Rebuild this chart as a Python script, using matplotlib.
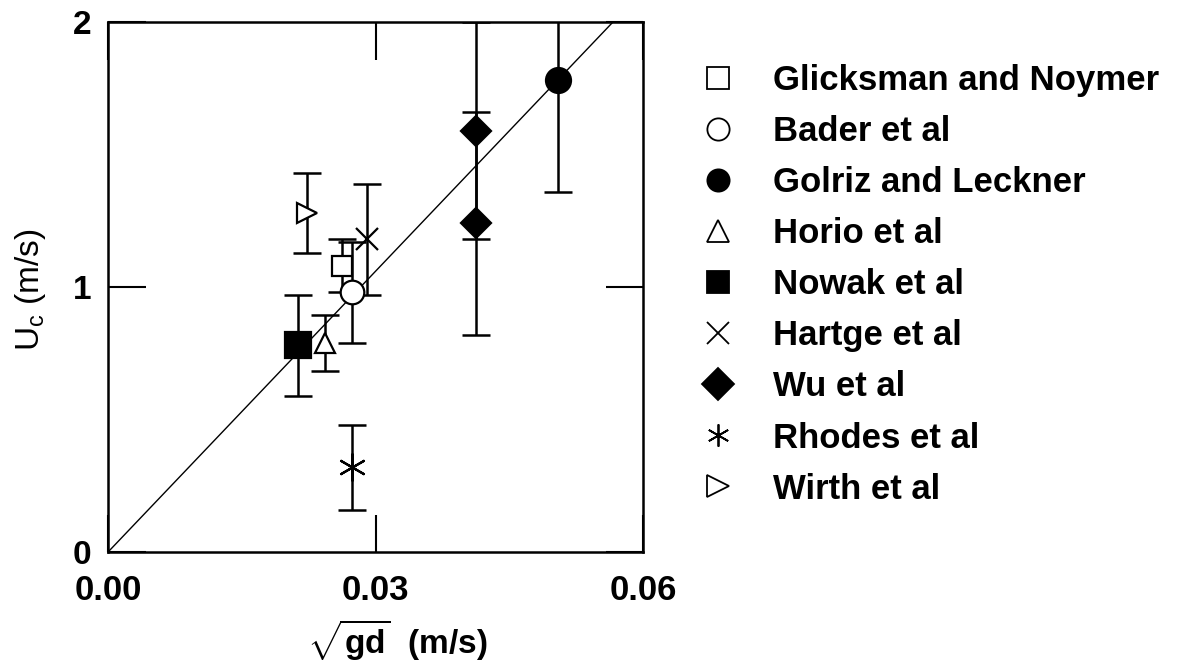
import matplotlib.pyplot as plt
from matplotlib.lines import Line2D

plt.rcParams['font.family'] = ['Liberation Sans', 'DejaVu Sans']
plt.rcParams['mathtext.fontset'] = 'custom'
plt.rcParams['mathtext.rm'] = 'Liberation Sans'
plt.rcParams['mathtext.it'] = 'Liberation Sans:italic'
plt.rcParams['mathtext.bf'] = 'Liberation Sans:bold'

# data
labels = ["Glicksman and Noymer", "Bader et al", "Golriz and Leckner", "Horio et al",
          "Nowak et al", "Hartge et al", "Wu et al", "Rhodes et al", "Wirth et al"]
x_vals = [[0.0262], [0.0274], [0.0505], [0.0243], [0.0213], [0.0290],
          [0.0413, 0.0413], [0.0274], [0.0223]]
y_vals = [[1.08], [0.98], [1.78], [0.79], [0.78], [1.18], [1.59, 1.24], [0.32], [1.28]]
y_err = [[0.10], [0.19], [0.42], [0.105], [0.19], [0.21], [0.41, 0.42], [0.16], [0.15]]
markers = ["s", "o", "o", "^", "s", "x", "D", "*", ">"]
filled = [False, False, True, False, True, False, True, False, False]
msizes = [15, 17, 18, 15, 19, 16, 15, 20, 15]

fit_x = [0.0, 0.0566]
fit_y = [0.0, 2.0]


def get_marker(m):
    if m == "*":
        return (6, 2, 0)
    return m


fig = plt.figure(figsize=(12, 6.7), dpi=100)
ax = fig.add_axes([0.09, 0.176, 0.446, 0.791])

ax.plot(fit_x, fit_y, color="black", lw=1.0, zorder=2)

for i in range(len(labels)):
    fc = "black" if filled[i] else "white"
    ax.errorbar(x_vals[i], y_vals[i], yerr=y_err[i], fmt="none", ecolor="black",
                elinewidth=1.8, capsize=10, capthick=1.8, zorder=3)
    ax.plot(x_vals[i], y_vals[i], linestyle="none", marker=get_marker(markers[i]),
            ms=msizes[i], mfc=fc, mec="black", mew=1.6, zorder=4)

ax.set_xlim(0, 0.06)
ax.set_ylim(0, 2)
ax.set_xticks([0.0, 0.03, 0.06])
ax.set_xticklabels(["0.00", "0.03", "0.06"])
ax.set_yticks([0, 1, 2])
ax.tick_params(direction="in", length=27, width=1.5, top=True, right=True)
ax.tick_params(axis="x", pad=16, labelsize=25)
ax.tick_params(axis="y", pad=12, labelsize=24)
for t in ax.get_xticklabels() + ax.get_yticklabels():
    t.set_fontweight("bold")
for s in ax.spines.values():
    s.set_linewidth(1.8)

ax.set_xlabel(r"$\sqrt{\mathbf{gd}}$  (m/s)", fontsize=24, fontweight="bold")
ax.xaxis.set_label_coords(0.54, -0.125)
ax.set_ylabel(r"U$_{\mathrm{c}}$ (m/s)", fontsize=24)
ax.yaxis.set_label_coords(-0.112, 0.494)

handles = []
for i in range(len(labels)):
    fc = "black" if filled[i] else "white"
    handles.append(Line2D([], [], linestyle="none", marker=get_marker(markers[i]),
                          ms=16, mfc=fc, mec="black", mew=1.3))
fig.legend(handles=handles, labels=labels, loc="upper left",
           bbox_to_anchor=(0.569, 0.925), frameon=False,
           prop={"size": 25, "weight": "bold"},
           labelspacing=0.52, handlelength=1.2, handletextpad=0.99,
           borderaxespad=0)

fig.savefig("out.png", dpi=100)
